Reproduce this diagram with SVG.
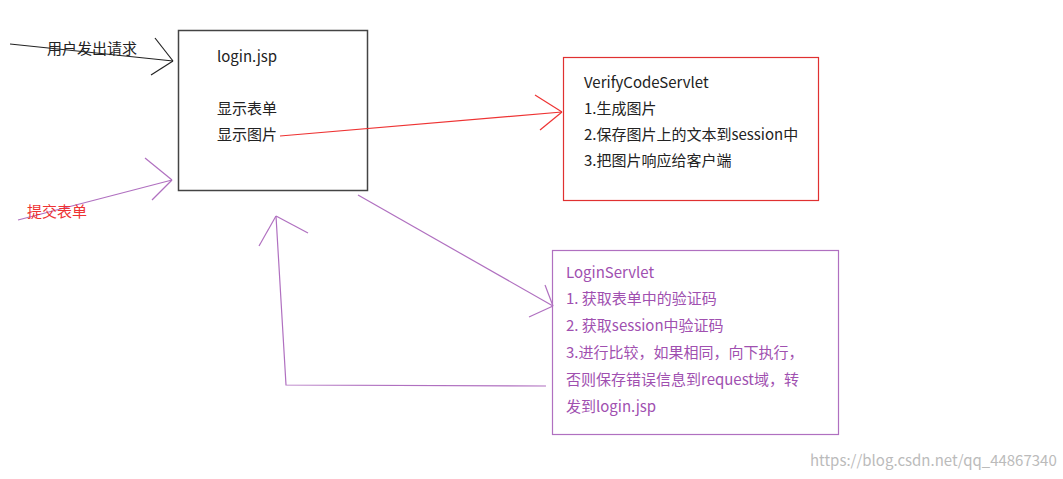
<svg xmlns="http://www.w3.org/2000/svg" width="1063" height="479" viewBox="0 0 1063 479">
<style>
text{font-family:"Microsoft YaHei","Noto Sans CJK SC",sans-serif;font-size:15px}
.k{fill:#222}.r{fill:#e33}.p{fill:#a050b0}
line,polyline{fill:none;stroke-width:1.2}
.bk{stroke:#222}.rd{stroke:#e33}.pu{stroke:#b070c0}
</style>
<rect width="1063" height="479" fill="#fff"/>
<g id="login-jsp">
<rect x="178.5" y="30.5" width="189" height="160" fill="none" stroke="#444" stroke-width="1.5"/>
<text class="k" x="217" y="62" font-size="16">login.jsp</text>
<text class="k" x="217" y="114">显示表单</text>
<text class="k" x="217" y="140">显示图片</text>
</g>
<g id="verify">
<rect x="563.5" y="57.5" width="255" height="143" fill="none" stroke="#e03030" stroke-width="1.2"/>
<text class="k" x="584" y="88" font-size="16">VerifyCodeServlet</text>
<text class="k" x="584" y="114">1.生成图片</text>
<text class="k" x="584" y="140">2.保存图片上的文本到session中</text>
<text class="k" x="584" y="166">3.把图片响应给客户端</text>
</g>
<g id="login-servlet">
<rect x="552.5" y="250.5" width="286" height="184" fill="none" stroke="#b070c0" stroke-width="1.2"/>
<text class="p" x="566" y="278" font-size="16">LoginServlet</text>
<text class="p" x="566" y="304">1. 获取表单中的验证码</text>
<text class="p" x="566" y="331">2. 获取session中验证码</text>
<text class="p" x="566" y="358">3.进行比较，如果相同，向下执行，</text>
<text class="p" x="566" y="385">否则保存错误信息到request域，转</text>
<text class="p" x="566" y="412">发到login.jsp</text>
</g>
<g id="connectors">
<line class="bk" x1="10" y1="44" x2="173" y2="61"/>
<line class="bk" x1="155" y1="38" x2="173" y2="61"/>
<line class="bk" x1="151" y1="75" x2="173" y2="61"/>
<line class="pu" x1="18" y1="220" x2="172" y2="180"/>
<line class="pu" x1="145" y1="158" x2="172" y2="180"/>
<line class="pu" x1="152" y1="200" x2="172" y2="180"/>
<line class="rd" x1="280" y1="136" x2="562" y2="112"/>
<line class="rd" x1="535" y1="95" x2="562" y2="112"/>
<line class="rd" x1="540" y1="130" x2="562" y2="112"/>
<line class="pu" x1="358" y1="195" x2="553" y2="306"/>
<line class="pu" x1="545" y1="285" x2="553" y2="306"/>
<line class="pu" x1="529" y1="317" x2="553" y2="306"/>
<polyline class="pu" points="546,386 286,385 276,216"/>
<line class="pu" x1="259" y1="246" x2="276" y2="216"/>
<line class="pu" x1="308" y1="233" x2="276" y2="216"/>
</g>
<text class="k" x="47" y="54">用户发出请求</text>
<text class="r" x="27" y="217">提交表单</text>
<text x="810" y="466" fill="#bbb" font-size="13" font-family="Liberation Sans,sans-serif">https://blog.csdn.net/qq_44867340</text>
</svg>
